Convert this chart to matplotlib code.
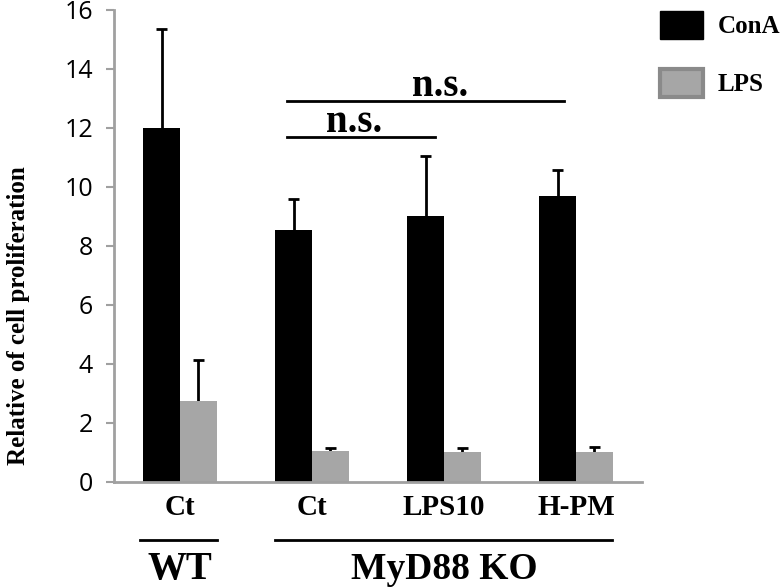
import matplotlib
matplotlib.use("Agg")
import matplotlib.pyplot as plt
from matplotlib.patches import Patch
import numpy as np

groups = ["Ct", "Ct", "LPS10", "H-PM"]
cona = [12.0, 8.55, 9.0, 9.68]
cona_err = [3.35, 1.05, 2.05, 0.9]
lps = [2.75, 1.05, 1.0, 1.0]
lps_err = [1.4, 0.1, 0.15, 0.18]

serif = "Liberation Serif"
axis_gray = "#a0a0a0"
bar_gray = "#a6a6a6"

fig = plt.figure(figsize=(7.83, 5.87), dpi=100)
ax = fig.add_axes([0.1456, 0.1789, 0.6743, 0.8041])

x = np.arange(len(groups))
w = 0.28
ax.bar(x - w / 2, cona, w, color="black", zorder=2)
ax.bar(x + w / 2, lps, w, color=bar_gray, zorder=2)

# one-sided error bars (upper only)
for xs, vals, errs in [(x - w / 2, cona, cona_err), (x + w / 2, lps, lps_err)]:
    tops = np.array(vals) + np.array(errs)
    ax.vlines(xs, vals, tops, color="black", lw=2, zorder=1)
    ax.hlines(tops, xs - 0.045, xs + 0.045, color="black", lw=2, zorder=1)

ax.set_xlim(-0.5, 3.5)
ax.set_ylim(0, 16)
ax.set_yticks(range(0, 17, 2))
ax.tick_params(axis="y", length=6, width=1.5, color=axis_gray, pad=9,
               labelsize=18)
for t in ax.get_yticklabels():
    t.set_fontfamily("Open Sans")
ax.set_xticks(x)
ax.set_xticklabels(groups, fontfamily=serif, fontweight="bold", fontsize=21)
ax.tick_params(axis="x", length=0, pad=9)

for s in ["top", "right"]:
    ax.spines[s].set_visible(False)
for s in ["left", "bottom"]:
    ax.spines[s].set_color(axis_gray)
    ax.spines[s].set_linewidth(2)

# significance brackets
ax.plot([0.81, 2.91], [12.9, 12.9], color="black", lw=2, clip_on=False)
ax.text(1.97, 13.1, "n.s.", ha="center", va="baseline", fontfamily=serif,
        fontweight="bold", fontsize=28)
ax.plot([0.81, 1.93], [11.7, 11.7], color="black", lw=2, clip_on=False)
ax.text(1.32, 11.85, "n.s.", ha="center", va="baseline", fontfamily=serif,
        fontweight="bold", fontsize=28)

# genotype labels under the axis
ax.plot([-0.3, 0.28], [-1.97, -1.97], color="black", lw=2, clip_on=False)
ax.plot([0.72, 3.27], [-1.97, -1.97], color="black", lw=2, clip_on=False)
ax.text(0.0, -2.95, "WT", ha="center", va="center", fontfamily=serif,
        fontweight="bold", fontsize=28)
ax.text(2.0, -2.95, "MyD88 KO", ha="center", va="center", fontfamily=serif,
        fontweight="bold", fontsize=27)

fig.text(0.024, 0.462, "Relative of cell proliferation", rotation=90,
         ha="center", va="center", fontfamily=serif, fontweight="bold",
         fontsize=18)

handles = [Patch(facecolor="black", edgecolor="black", label="ConA"),
           Patch(facecolor=bar_gray, edgecolor="#8a8a8a", linewidth=3,
                 label="LPS")]
fig.legend(handles=handles, loc="upper left", bbox_to_anchor=(0.843, 0.982),
           frameon=False, borderpad=0, borderaxespad=0, handlelength=1.7,
           handleheight=1.35, handletextpad=0.6, labelspacing=1.2,
           prop={"family": serif, "weight": "bold", "size": 18})

fig.savefig("out.png", dpi=100)
